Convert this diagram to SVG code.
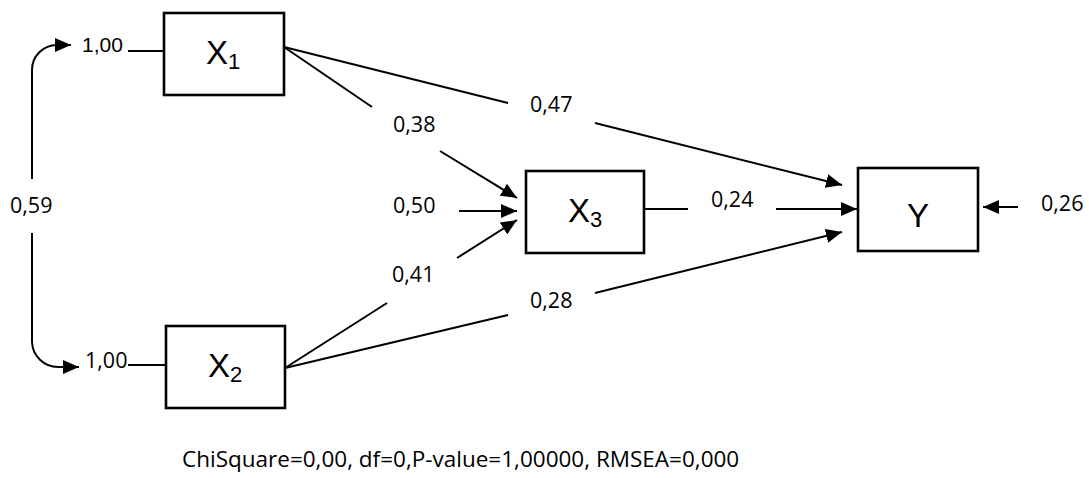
<svg xmlns="http://www.w3.org/2000/svg" width="1089" height="478" viewBox="0 0 1089 478">
<defs>
<style>
.box{fill:#fff;stroke:#000;stroke-width:2.6}
.ln{fill:none;stroke:#000;stroke-width:2}
.arr{marker-end:url(#ah)}
.lab{font-family:"Open Sans","Liberation Sans",sans-serif;font-size:21.5px;fill:#000}
.nl{font-family:"Liberation Sans",Arial,sans-serif;font-size:33px;fill:#000}
.sub{font-size:22px}
</style>
<marker id="ah" markerUnits="userSpaceOnUse" markerWidth="17" markerHeight="14" refX="16" refY="7" orient="auto">
<path d="M0,0 L16,7 L0,14 z" fill="#000"/>
</marker>
</defs>
<rect width="1089" height="478" fill="#fff"/>
<g id="connectors">
<path class="ln arr" d="M32,179 V70 A25,25 0 0 1 57,45 H71"/>
<path class="ln arr" d="M32,233 V342 A26,26 0 0 0 58,367 H79"/>
<line class="ln" x1="128" y1="51" x2="164" y2="51"/>
<line class="ln" x1="128" y1="365" x2="166" y2="365"/>
<line class="ln" x1="284" y1="47" x2="508" y2="103"/>
<line class="ln arr" x1="595" y1="123" x2="842" y2="185"/>
<line class="ln" x1="284" y1="47" x2="372" y2="107"/>
<line class="ln arr" x1="440" y1="151" x2="517" y2="198"/>
<line class="ln arr" x1="459" y1="211" x2="517" y2="211"/>
<line class="ln" x1="285" y1="368" x2="387" y2="303"/>
<line class="ln arr" x1="457" y1="258" x2="517" y2="220"/>
<line class="ln" x1="285" y1="368" x2="508" y2="315"/>
<line class="ln arr" x1="595" y1="293" x2="842" y2="232"/>
<line class="ln" x1="644" y1="209" x2="688" y2="209"/>
<line class="ln arr" x1="776" y1="209" x2="857" y2="209"/>
<line class="ln arr" x1="1018" y1="207" x2="983" y2="207"/>
</g>
<g id="X1">
<rect class="box" x="164" y="13" width="120" height="82"/>
<text class="nl" x="206" y="64">X<tspan class="sub" dy="5">1</tspan></text>
</g>
<g id="X2">
<rect class="box" x="166" y="326" width="119" height="82"/>
<text class="nl" x="208" y="377">X<tspan class="sub" dy="5">2</tspan></text>
</g>
<g id="X3">
<rect class="box" x="526" y="171" width="118" height="82"/>
<text class="nl" x="568" y="222">X<tspan class="sub" dy="5">3</tspan></text>
</g>
<g id="Y">
<rect class="box" x="858" y="168" width="120" height="83"/>
<text class="nl" x="918" y="227" text-anchor="middle">Y</text>
</g>
<g id="labels">
<text x="82" y="52" style="font-family:'Liberation Sans',Arial,sans-serif;font-size:21px">1,00</text>
<text class="lab" x="85" y="368">1,00</text>
<text class="lab" x="10" y="213">0,59</text>
<text class="lab" x="393" y="132">0,38</text>
<text class="lab" x="530" y="112">0,47</text>
<text class="lab" x="393" y="213">0,50</text>
<text class="lab" x="392" y="282">0,41</text>
<text class="lab" x="530" y="308">0,28</text>
<text class="lab" x="711" y="207">0,24</text>
<text class="lab" x="1041" y="211">0,26</text>
<text class="lab" x="182" y="467" style="font-size:22.5px">ChiSquare=0,00, df=0,P-value=1,00000, RMSEA=0,000</text>
</g>
</svg>
